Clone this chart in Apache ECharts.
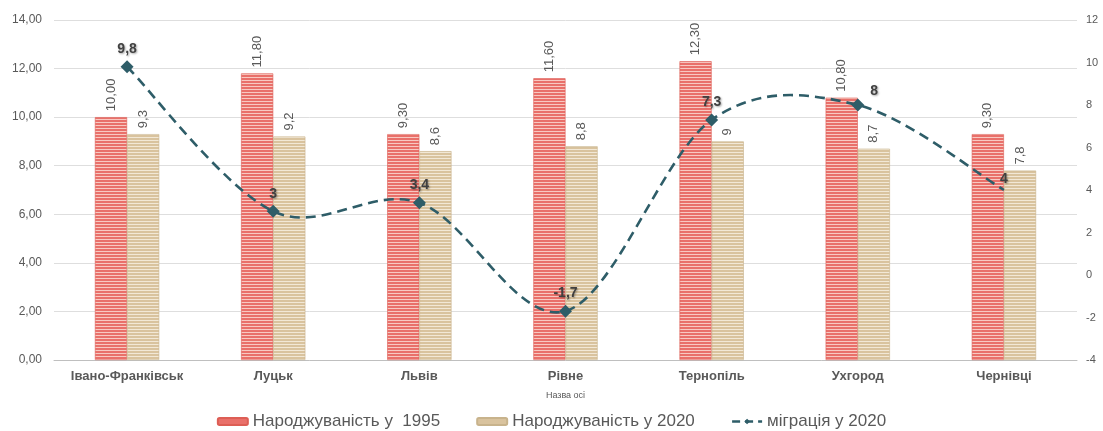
<!DOCTYPE html>
<html><head><meta charset="utf-8">
<script src="https://cdn.jsdelivr.net/npm/echarts@6/dist/echarts.min.js"></script>
<style>html,body{margin:0;padding:0;background:#fff}#c{width:1103px;height:431px}</style>
</head><body><div id="c"></div>
<script>
const categories = ['Івано-Франківськ','Луцьк','Львів','Рівне','Тернопіль','Ухгород','Чернівці'];
const births1995 = [10.00, 11.80, 9.30, 11.60, 12.30, 10.80, 9.30];
const births2020 = [9.3, 9.2, 8.6, 8.8, 9, 8.7, 7.8];
const migration2020 = [9.8, 3, 3.4, -1.7, 7.3, 8, 4];
const leftTicks = [0,2,4,6,8,10,12,14];
const rightTicks = [-4,-2,0,2,4,6,8,10,12];
const seriesNames = ['Народжуваність у  1995','Народжуваність у 2020','міграція у 2020'];

function stripe(base, light){
  const c = document.createElement('canvas');
  c.width = 4; c.height = 3;
  const g = c.getContext('2d');
  g.fillStyle = base; g.fillRect(0,0,4,3);
  g.fillStyle = light; g.fillRect(0,2,4,1);
  return c;
}
const redPat = {image: stripe('#e9706a','#f8c9c2'), repeat:'repeat'};
const tanPat = {image: stripe('#d9c39e','#f2e8d6'), repeat:'repeat'};

const fmt = v => String(v).replace('.', ',');
const lblColor = '#595959';
const lineColor = '#2e5d68';
const font = 'Liberation Sans, Arial, sans-serif';

const lineData = migration2020.map((v,i)=>{
  const d = {value:v};
  if (i===5) d.label = {position:'right', offset:[2,-14]};
  if (i===6) d.symbolSize = 0;
  return d;
});

// smooth (Catmull-Rom) curve through the migration points, positioned via the axes
function renderCurve(params, api){
  if (params.dataIndex !== 0) return null;
  const pts = migration2020.map((v,i)=>api.coord([i, v]));
  const n = pts.length;
  let d = 'M' + pts[0][0] + ',' + pts[0][1];
  for (let i=0;i<n-1;i++){
    const p0 = pts[i-1] || pts[i], p1 = pts[i], p2 = pts[i+1], p3 = pts[i+2] || pts[i+1];
    const c1x = p1[0] + (p2[0]-p0[0])/6, c1y = p1[1] + (p2[1]-p0[1])/6;
    const c2x = p2[0] - (p3[0]-p1[0])/6, c2y = p2[1] - (p3[1]-p1[1])/6;
    d += ' C' + c1x + ',' + c1y + ' ' + c2x + ',' + c2y + ' ' + p2[0] + ',' + p2[1];
  }
  return {type:'path', shape:{pathData:d},
    style:{fill:null, stroke:lineColor, lineWidth:2.6, lineDash:[10,6], lineCap:'butt'}};
}

const chart = echarts.init(document.getElementById('c'));
chart.setOption({
  animation:false,
  textStyle:{fontFamily:font},
  grid:{left:54, right:26, top:20, bottom:71},
  legend:{
    bottom:-4, left:'center', itemGap:36, itemWidth:30, itemHeight:7,
    textStyle:{fontSize:17, color:lblColor, fontFamily:font},
    data:[
      {name:seriesNames[0], itemStyle:{color:'#e9706a'}},
      {name:seriesNames[1], itemStyle:{color:'#d9c39e'}},
      {name:seriesNames[2], lineStyle:{color:lineColor, width:2.6, type:[8,5], opacity:1}}
    ]
  },
  xAxis:{
    type:'category', data:categories,
    name:'Назва осі', nameLocation:'middle', nameGap:31,
    nameTextStyle:{fontSize:9, color:lblColor},
    axisLine:{lineStyle:{color:'#bfbfbf', width:1}},
    axisTick:{show:false},
    axisLabel:{fontSize:13, fontWeight:'bold', color:lblColor, margin:10}
  },
  yAxis:[
    {type:'value', min:leftTicks[0], max:leftTicks[leftTicks.length-1], interval:2,
     axisLabel:{fontSize:12, color:lblColor, formatter:v=>v.toFixed(2).replace('.',','), margin:12},
     axisLine:{show:false}, axisTick:{show:false},
     splitLine:{lineStyle:{color:'#dedede'}}},
    {type:'value', min:rightTicks[0], max:rightTicks[rightTicks.length-1], interval:2,
     axisLabel:{fontSize:11, color:lblColor, margin:9},
     axisLine:{show:false}, axisTick:{show:false}, splitLine:{show:false}}
  ],
  series:[
    {name:seriesNames[0], type:'bar', data:births1995, barGap:'0%', barCategoryGap:'56%',
     itemStyle:{color:redPat, borderColor:'#dd5e55', borderWidth:0.6},
     label:{show:true, position:'top', rotate:90, align:'left', verticalAlign:'middle', distance:6,
       fontSize:13, color:lblColor, formatter:p=>p.value.toFixed(2).replace('.',',')}},
    {name:seriesNames[1], type:'bar', data:births2020,
     itemStyle:{color:tanPat, borderColor:'#c8b38c', borderWidth:0.6},
     label:{show:true, position:'top', rotate:90, align:'left', verticalAlign:'middle', distance:6,
       fontSize:13, color:lblColor, formatter:p=>fmt(p.value)}},
    {name:'curve', type:'custom', yAxisIndex:1, z:4, silent:true,
     data:migration2020.map((v,i)=>[i,v]), encode:{x:0, y:1},
     renderItem:renderCurve},
    {name:seriesNames[2], type:'line', yAxisIndex:1, data:lineData,
     symbol:'diamond', symbolSize:13, z:5,
     lineStyle:{opacity:0},
     itemStyle:{color:lineColor},
     label:{show:true, position:'top', distance:4, fontSize:14, fontWeight:'bold', color:'#404040',
       textShadowColor:'rgba(0,0,0,0.35)', textShadowBlur:2, textShadowOffsetX:1, textShadowOffsetY:1,
       formatter:p=>fmt(p.value)}}
  ]
});
</script></body></html>
